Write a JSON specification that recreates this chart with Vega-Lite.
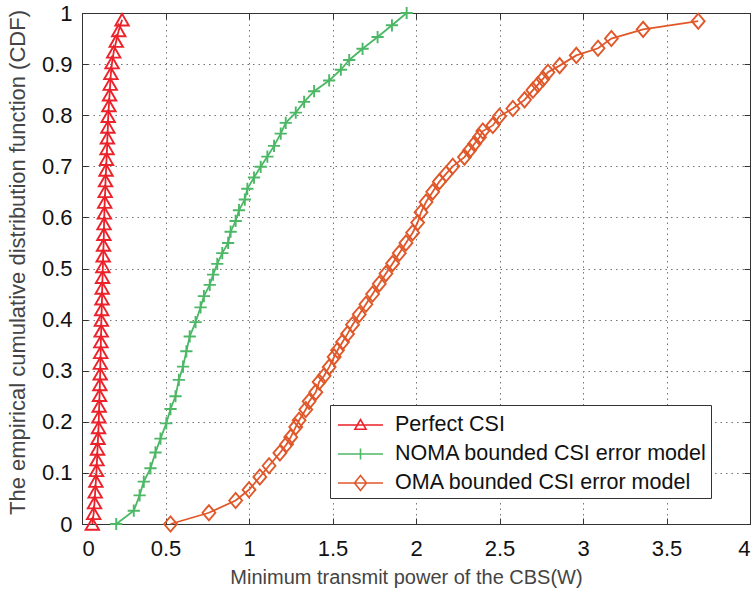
{
  "$schema": "https://vega.github.io/schema/vega-lite/v6.json",
  "width": 668,
  "height": 511,
  "autosize": "none",
  "padding": {"left": 82, "top": 13, "right": 5, "bottom": 69},
  "background": "white",
  "config": {
    "font": "Liberation Sans",
    "view": {"stroke": "#333", "strokeWidth": 1},
    "axis": {
      "domainColor": "#333",
      "tickColor": "#333",
      "labelFontSize": 22,
      "labelColor": "#111",
      "titleFontSize": 20,
      "titleColor": "#444",
      "titleFontWeight": "normal",
      "gridColor": "#777",
      "gridDash": [1.5, 4],
      "gridWidth": 1
    }
  },
  "data": {"values": [
    {"series": "Perfect CSI", "power": 0.062, "cdf": 0.000},
    {"series": "Perfect CSI", "power": 0.070, "cdf": 0.021},
    {"series": "Perfect CSI", "power": 0.075, "cdf": 0.042},
    {"series": "Perfect CSI", "power": 0.079, "cdf": 0.063},
    {"series": "Perfect CSI", "power": 0.083, "cdf": 0.084},
    {"series": "Perfect CSI", "power": 0.087, "cdf": 0.105},
    {"series": "Perfect CSI", "power": 0.090, "cdf": 0.126},
    {"series": "Perfect CSI", "power": 0.093, "cdf": 0.147},
    {"series": "Perfect CSI", "power": 0.096, "cdf": 0.168},
    {"series": "Perfect CSI", "power": 0.099, "cdf": 0.189},
    {"series": "Perfect CSI", "power": 0.101, "cdf": 0.210},
    {"series": "Perfect CSI", "power": 0.103, "cdf": 0.231},
    {"series": "Perfect CSI", "power": 0.105, "cdf": 0.252},
    {"series": "Perfect CSI", "power": 0.107, "cdf": 0.273},
    {"series": "Perfect CSI", "power": 0.109, "cdf": 0.294},
    {"series": "Perfect CSI", "power": 0.110, "cdf": 0.315},
    {"series": "Perfect CSI", "power": 0.112, "cdf": 0.336},
    {"series": "Perfect CSI", "power": 0.113, "cdf": 0.357},
    {"series": "Perfect CSI", "power": 0.115, "cdf": 0.378},
    {"series": "Perfect CSI", "power": 0.116, "cdf": 0.399},
    {"series": "Perfect CSI", "power": 0.118, "cdf": 0.420},
    {"series": "Perfect CSI", "power": 0.120, "cdf": 0.441},
    {"series": "Perfect CSI", "power": 0.121, "cdf": 0.462},
    {"series": "Perfect CSI", "power": 0.123, "cdf": 0.483},
    {"series": "Perfect CSI", "power": 0.125, "cdf": 0.504},
    {"series": "Perfect CSI", "power": 0.127, "cdf": 0.525},
    {"series": "Perfect CSI", "power": 0.129, "cdf": 0.546},
    {"series": "Perfect CSI", "power": 0.131, "cdf": 0.567},
    {"series": "Perfect CSI", "power": 0.132, "cdf": 0.588},
    {"series": "Perfect CSI", "power": 0.134, "cdf": 0.609},
    {"series": "Perfect CSI", "power": 0.136, "cdf": 0.630},
    {"series": "Perfect CSI", "power": 0.139, "cdf": 0.651},
    {"series": "Perfect CSI", "power": 0.141, "cdf": 0.672},
    {"series": "Perfect CSI", "power": 0.144, "cdf": 0.693},
    {"series": "Perfect CSI", "power": 0.147, "cdf": 0.714},
    {"series": "Perfect CSI", "power": 0.150, "cdf": 0.735},
    {"series": "Perfect CSI", "power": 0.152, "cdf": 0.756},
    {"series": "Perfect CSI", "power": 0.155, "cdf": 0.777},
    {"series": "Perfect CSI", "power": 0.157, "cdf": 0.798},
    {"series": "Perfect CSI", "power": 0.161, "cdf": 0.819},
    {"series": "Perfect CSI", "power": 0.165, "cdf": 0.840},
    {"series": "Perfect CSI", "power": 0.169, "cdf": 0.861},
    {"series": "Perfect CSI", "power": 0.173, "cdf": 0.882},
    {"series": "Perfect CSI", "power": 0.180, "cdf": 0.903},
    {"series": "Perfect CSI", "power": 0.190, "cdf": 0.924},
    {"series": "Perfect CSI", "power": 0.205, "cdf": 0.945},
    {"series": "Perfect CSI", "power": 0.220, "cdf": 0.966},
    {"series": "Perfect CSI", "power": 0.240, "cdf": 0.987},

    {"series": "NOMA bounded CSI error model", "power": 0.205, "cdf": 0.000},
    {"series": "NOMA bounded CSI error model", "power": 0.310, "cdf": 0.026},
    {"series": "NOMA bounded CSI error model", "power": 0.345, "cdf": 0.056},
    {"series": "NOMA bounded CSI error model", "power": 0.370, "cdf": 0.083},
    {"series": "NOMA bounded CSI error model", "power": 0.410, "cdf": 0.109},
    {"series": "NOMA bounded CSI error model", "power": 0.440, "cdf": 0.140},
    {"series": "NOMA bounded CSI error model", "power": 0.470, "cdf": 0.167},
    {"series": "NOMA bounded CSI error model", "power": 0.505, "cdf": 0.197},
    {"series": "NOMA bounded CSI error model", "power": 0.530, "cdf": 0.225},
    {"series": "NOMA bounded CSI error model", "power": 0.560, "cdf": 0.250},
    {"series": "NOMA bounded CSI error model", "power": 0.580, "cdf": 0.282},
    {"series": "NOMA bounded CSI error model", "power": 0.605, "cdf": 0.308},
    {"series": "NOMA bounded CSI error model", "power": 0.625, "cdf": 0.338},
    {"series": "NOMA bounded CSI error model", "power": 0.645, "cdf": 0.367},
    {"series": "NOMA bounded CSI error model", "power": 0.680, "cdf": 0.395},
    {"series": "NOMA bounded CSI error model", "power": 0.710, "cdf": 0.424},
    {"series": "NOMA bounded CSI error model", "power": 0.730, "cdf": 0.446},
    {"series": "NOMA bounded CSI error model", "power": 0.765, "cdf": 0.468},
    {"series": "NOMA bounded CSI error model", "power": 0.785, "cdf": 0.488},
    {"series": "NOMA bounded CSI error model", "power": 0.810, "cdf": 0.509},
    {"series": "NOMA bounded CSI error model", "power": 0.840, "cdf": 0.530},
    {"series": "NOMA bounded CSI error model", "power": 0.875, "cdf": 0.550},
    {"series": "NOMA bounded CSI error model", "power": 0.890, "cdf": 0.572},
    {"series": "NOMA bounded CSI error model", "power": 0.920, "cdf": 0.593},
    {"series": "NOMA bounded CSI error model", "power": 0.940, "cdf": 0.614},
    {"series": "NOMA bounded CSI error model", "power": 0.975, "cdf": 0.635},
    {"series": "NOMA bounded CSI error model", "power": 0.990, "cdf": 0.656},
    {"series": "NOMA bounded CSI error model", "power": 1.030, "cdf": 0.678},
    {"series": "NOMA bounded CSI error model", "power": 1.070, "cdf": 0.699},
    {"series": "NOMA bounded CSI error model", "power": 1.110, "cdf": 0.719},
    {"series": "NOMA bounded CSI error model", "power": 1.150, "cdf": 0.740},
    {"series": "NOMA bounded CSI error model", "power": 1.190, "cdf": 0.764},
    {"series": "NOMA bounded CSI error model", "power": 1.220, "cdf": 0.785},
    {"series": "NOMA bounded CSI error model", "power": 1.280, "cdf": 0.805},
    {"series": "NOMA bounded CSI error model", "power": 1.330, "cdf": 0.826},
    {"series": "NOMA bounded CSI error model", "power": 1.390, "cdf": 0.847},
    {"series": "NOMA bounded CSI error model", "power": 1.480, "cdf": 0.868},
    {"series": "NOMA bounded CSI error model", "power": 1.550, "cdf": 0.889},
    {"series": "NOMA bounded CSI error model", "power": 1.600, "cdf": 0.908},
    {"series": "NOMA bounded CSI error model", "power": 1.680, "cdf": 0.930},
    {"series": "NOMA bounded CSI error model", "power": 1.770, "cdf": 0.953},
    {"series": "NOMA bounded CSI error model", "power": 1.856, "cdf": 0.976},
    {"series": "NOMA bounded CSI error model", "power": 1.944, "cdf": 1.000},

    {"series": "OMA bounded CSI error model", "power": 0.530, "cdf": 0.000},
    {"series": "OMA bounded CSI error model", "power": 0.760, "cdf": 0.022},
    {"series": "OMA bounded CSI error model", "power": 0.920, "cdf": 0.046},
    {"series": "OMA bounded CSI error model", "power": 1.000, "cdf": 0.067},
    {"series": "OMA bounded CSI error model", "power": 1.065, "cdf": 0.092},
    {"series": "OMA bounded CSI error model", "power": 1.120, "cdf": 0.114},
    {"series": "OMA bounded CSI error model", "power": 1.185, "cdf": 0.139},
    {"series": "OMA bounded CSI error model", "power": 1.225, "cdf": 0.156},
    {"series": "OMA bounded CSI error model", "power": 1.250, "cdf": 0.170},
    {"series": "OMA bounded CSI error model", "power": 1.280, "cdf": 0.190},
    {"series": "OMA bounded CSI error model", "power": 1.300, "cdf": 0.203},
    {"series": "OMA bounded CSI error model", "power": 1.340, "cdf": 0.224},
    {"series": "OMA bounded CSI error model", "power": 1.360, "cdf": 0.240},
    {"series": "OMA bounded CSI error model", "power": 1.400, "cdf": 0.258},
    {"series": "OMA bounded CSI error model", "power": 1.420, "cdf": 0.278},
    {"series": "OMA bounded CSI error model", "power": 1.450, "cdf": 0.290},
    {"series": "OMA bounded CSI error model", "power": 1.480, "cdf": 0.307},
    {"series": "OMA bounded CSI error model", "power": 1.510, "cdf": 0.327},
    {"series": "OMA bounded CSI error model", "power": 1.530, "cdf": 0.340},
    {"series": "OMA bounded CSI error model", "power": 1.560, "cdf": 0.356},
    {"series": "OMA bounded CSI error model", "power": 1.590, "cdf": 0.372},
    {"series": "OMA bounded CSI error model", "power": 1.620, "cdf": 0.390},
    {"series": "OMA bounded CSI error model", "power": 1.660, "cdf": 0.410},
    {"series": "OMA bounded CSI error model", "power": 1.700, "cdf": 0.430},
    {"series": "OMA bounded CSI error model", "power": 1.740, "cdf": 0.450},
    {"series": "OMA bounded CSI error model", "power": 1.780, "cdf": 0.470},
    {"series": "OMA bounded CSI error model", "power": 1.820, "cdf": 0.490},
    {"series": "OMA bounded CSI error model", "power": 1.860, "cdf": 0.510},
    {"series": "OMA bounded CSI error model", "power": 1.900, "cdf": 0.530},
    {"series": "OMA bounded CSI error model", "power": 1.940, "cdf": 0.550},
    {"series": "OMA bounded CSI error model", "power": 1.980, "cdf": 0.570},
    {"series": "OMA bounded CSI error model", "power": 2.010, "cdf": 0.590},
    {"series": "OMA bounded CSI error model", "power": 2.030, "cdf": 0.610},
    {"series": "OMA bounded CSI error model", "power": 2.060, "cdf": 0.630},
    {"series": "OMA bounded CSI error model", "power": 2.100, "cdf": 0.650},
    {"series": "OMA bounded CSI error model", "power": 2.140, "cdf": 0.670},
    {"series": "OMA bounded CSI error model", "power": 2.180, "cdf": 0.685},
    {"series": "OMA bounded CSI error model", "power": 2.220, "cdf": 0.700},
    {"series": "OMA bounded CSI error model", "power": 2.290, "cdf": 0.718},
    {"series": "OMA bounded CSI error model", "power": 2.320, "cdf": 0.731},
    {"series": "OMA bounded CSI error model", "power": 2.350, "cdf": 0.744},
    {"series": "OMA bounded CSI error model", "power": 2.380, "cdf": 0.757},
    {"series": "OMA bounded CSI error model", "power": 2.400, "cdf": 0.769},
    {"series": "OMA bounded CSI error model", "power": 2.460, "cdf": 0.780},
    {"series": "OMA bounded CSI error model", "power": 2.500, "cdf": 0.798},
    {"series": "OMA bounded CSI error model", "power": 2.580, "cdf": 0.813},
    {"series": "OMA bounded CSI error model", "power": 2.650, "cdf": 0.830},
    {"series": "OMA bounded CSI error model", "power": 2.700, "cdf": 0.849},
    {"series": "OMA bounded CSI error model", "power": 2.730, "cdf": 0.860},
    {"series": "OMA bounded CSI error model", "power": 2.760, "cdf": 0.871},
    {"series": "OMA bounded CSI error model", "power": 2.790, "cdf": 0.884},
    {"series": "OMA bounded CSI error model", "power": 2.860, "cdf": 0.897},
    {"series": "OMA bounded CSI error model", "power": 2.960, "cdf": 0.917},
    {"series": "OMA bounded CSI error model", "power": 3.090, "cdf": 0.931},
    {"series": "OMA bounded CSI error model", "power": 3.170, "cdf": 0.950},
    {"series": "OMA bounded CSI error model", "power": 3.360, "cdf": 0.968},
    {"series": "OMA bounded CSI error model", "power": 3.690, "cdf": 0.984}
  ]},
  "encoding": {
    "color": {
      "field": "series", "type": "nominal",
      "scale": {
        "domain": ["Perfect CSI", "NOMA bounded CSI error model", "OMA bounded CSI error model"],
        "range": ["#ec2129", "#4cb866", "#e0582a"]
      },
      "legend": {
        "title": null,
        "orient": "none",
        "legendX": 248,
        "legendY": 392,
        "padding": 4,
        "strokeColor": "#333",
        "fillColor": "white",
        "labelFontSize": 21.5,
        "labelColor": "#111",
        "labelLimit": 0,
        "symbolSize": 900,
        "symbolStrokeWidth": 1.6,
        "rowPadding": 2,
        "labelOffset": 29,
        "encode": {
          "symbols": {
            "update": {
              "shape": {"signal": "datum.value === 'Perfect CSI' ? 'M-0.8,0H2.2M0.33,0.28L0.7,-0.36L1.07,0.28Z' : datum.value === 'NOMA bounded CSI error model' ? 'M-0.8,0H2.2M0.7,-0.37V0.37' : 'M-0.8,0H2.2M0.3,0L0.7,-0.5L1.1,0L0.7,0.5Z'"},
              "fill": {"value": "transparent"},
              "strokeWidth": {"value": 1.6}
            }
          }
        }
      }
    }
  },
  "layer": [
    {
      "mark": {"type": "line", "strokeWidth": 1.8},
      "encoding": {
        "x": {
          "field": "power", "type": "quantitative",
          "scale": {"domain": [0, 4], "nice": false, "zero": false},
          "axis": {
            "orient": "bottom",
            "values": [0, 0.5, 1, 1.5, 2, 2.5, 3, 3.5, 4],
            "format": "~g",
            "title": "Minimum transmit power of the CBS(W)",
            "tickSize": -6,
            "labelPadding": 20,
            "titlePadding": 8,
            "titleX": 324,
            "grid": true
          }
        },
        "y": {
          "field": "cdf", "type": "quantitative",
          "scale": {"domain": [0, 1], "nice": false},
          "axis": {
            "orient": "left",
            "values": [0, 0.1, 0.2, 0.3, 0.4, 0.5, 0.6, 0.7, 0.8, 0.9, 1],
            "format": "~g",
            "title": "The empirical cumulative distribution function (CDF)",
            "titleFontSize": 22,
            "tickSize": -6,
            "labelPadding": 16,
            "titlePadding": 12,
            "titleY": 249,
            "grid": true
          }
        },
        "order": {"field": "cdf", "type": "quantitative"}
      }
    },
    {
      "transform": [{"filter": "datum.series === 'Perfect CSI'"}],
      "mark": {"type": "point", "filled": false, "strokeWidth": 1.9, "opacity": 1, "shape": "triangle-up", "size": 180},
      "encoding": {
        "x": {
          "field": "power", "type": "quantitative",
          "axis": {"orient": "top", "labels": false, "title": null, "grid": false, "tickSize": -6, "values": [0, 0.5, 1, 1.5, 2, 2.5, 3, 3.5, 4]}
        },
        "y": {
          "field": "cdf", "type": "quantitative",
          "axis": {"orient": "right", "labels": false, "title": null, "grid": false, "tickSize": -6, "values": [0, 0.1, 0.2, 0.3, 0.4, 0.5, 0.6, 0.7, 0.8, 0.9, 1]}
        }
      }
    },
    {
      "transform": [{"filter": "datum.series === 'NOMA bounded CSI error model'"}],
      "mark": {"type": "point", "filled": false, "strokeWidth": 1.9, "opacity": 1, "shape": "M-1,0H1M0,-1V1", "size": 150},
      "encoding": {
        "x": {"field": "power", "type": "quantitative", "axis": null},
        "y": {"field": "cdf", "type": "quantitative", "axis": null}
      }
    },
    {
      "transform": [{"filter": "datum.series === 'OMA bounded CSI error model'"}],
      "mark": {"type": "point", "filled": false, "strokeWidth": 1.9, "opacity": 1, "shape": "M-0.85,0L0,-1L0.85,0L0,1Z", "size": 230},
      "encoding": {
        "x": {"field": "power", "type": "quantitative", "axis": null},
        "y": {"field": "cdf", "type": "quantitative", "axis": null}
      }
    }
  ],
  "resolve": {"axis": {"x": "independent", "y": "independent"}}
}
